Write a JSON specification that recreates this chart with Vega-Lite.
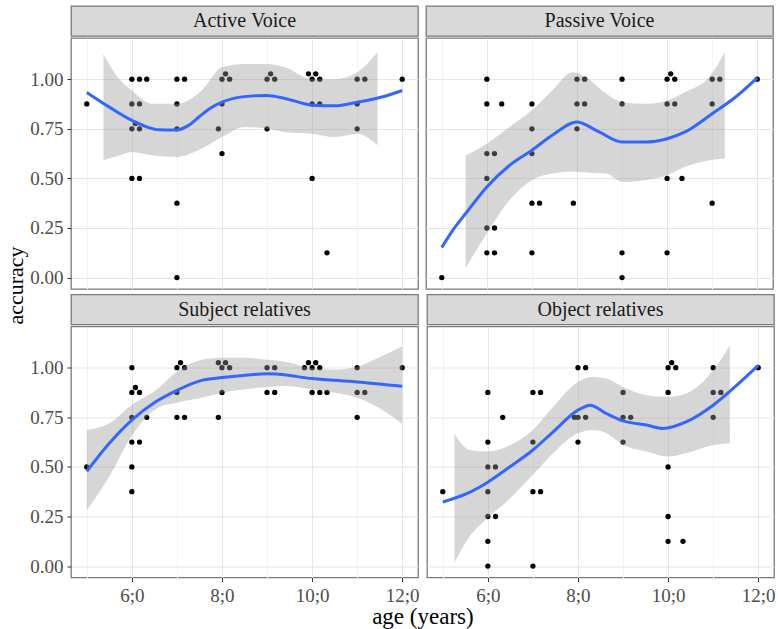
{
  "$schema": "https://vega.github.io/schema/vega-lite/v6.json",
  "background": "white",
  "padding": {"left": 0, "top": 5, "right": 5, "bottom": 0},
  "title": {"text": "age (years)", "orient": "bottom", "anchor": "middle", "font": "Liberation Serif", "fontSize": 23, "fontWeight": "normal", "color": "#000000", "offset": 0, "dx": 35},
  "config": {
    "axis": {"labelFont": "Liberation Serif", "labelFontSize": 19, "labelColor": "#4d4d4d", "tickColor": "#333333", "tickSize": 4, "labelPadding": 4, "domain": false, "gridWidth": 1, "labelOverlap": false, "labelFlush": false}
  },
  "datasets": {
    "points": [
      {"panel": "Active Voice", "age": 5.0, "acc": 0.875},
      {"panel": "Active Voice", "age": 6.0, "acc": 1},
      {"panel": "Active Voice", "age": 6.17, "acc": 1},
      {"panel": "Active Voice", "age": 6.33, "acc": 1},
      {"panel": "Active Voice", "age": 6.0, "acc": 0.875},
      {"panel": "Active Voice", "age": 6.17, "acc": 0.875},
      {"panel": "Active Voice", "age": 6.08, "acc": 0.777},
      {"panel": "Active Voice", "age": 6.0, "acc": 0.75},
      {"panel": "Active Voice", "age": 6.17, "acc": 0.75},
      {"panel": "Active Voice", "age": 6.0, "acc": 0.5},
      {"panel": "Active Voice", "age": 6.17, "acc": 0.5},
      {"panel": "Active Voice", "age": 7.0, "acc": 1},
      {"panel": "Active Voice", "age": 7.17, "acc": 1},
      {"panel": "Active Voice", "age": 7.0, "acc": 0.875},
      {"panel": "Active Voice", "age": 7.0, "acc": 0.75},
      {"panel": "Active Voice", "age": 7.0, "acc": 0.375},
      {"panel": "Active Voice", "age": 7.0, "acc": 0},
      {"panel": "Active Voice", "age": 8.0, "acc": 1},
      {"panel": "Active Voice", "age": 8.08, "acc": 1.027},
      {"panel": "Active Voice", "age": 8.17, "acc": 1},
      {"panel": "Active Voice", "age": 8.0, "acc": 0.875},
      {"panel": "Active Voice", "age": 7.92, "acc": 0.75},
      {"panel": "Active Voice", "age": 8.0, "acc": 0.625},
      {"panel": "Active Voice", "age": 9.0, "acc": 1},
      {"panel": "Active Voice", "age": 9.08, "acc": 1.027},
      {"panel": "Active Voice", "age": 9.17, "acc": 1},
      {"panel": "Active Voice", "age": 9.0, "acc": 0.75},
      {"panel": "Active Voice", "age": 9.92, "acc": 1.027},
      {"panel": "Active Voice", "age": 10.08, "acc": 1.027},
      {"panel": "Active Voice", "age": 10.0, "acc": 1},
      {"panel": "Active Voice", "age": 10.17, "acc": 1},
      {"panel": "Active Voice", "age": 10.0, "acc": 0.875},
      {"panel": "Active Voice", "age": 10.17, "acc": 0.875},
      {"panel": "Active Voice", "age": 10.0, "acc": 0.5},
      {"panel": "Active Voice", "age": 10.33, "acc": 0.125},
      {"panel": "Active Voice", "age": 11.0, "acc": 1},
      {"panel": "Active Voice", "age": 11.17, "acc": 1},
      {"panel": "Active Voice", "age": 11.0, "acc": 0.875},
      {"panel": "Active Voice", "age": 11.0, "acc": 0.75},
      {"panel": "Active Voice", "age": 12.0, "acc": 1},

      {"panel": "Passive Voice", "age": 5.0, "acc": 0},
      {"panel": "Passive Voice", "age": 6.0, "acc": 1},
      {"panel": "Passive Voice", "age": 6.0, "acc": 0.875},
      {"panel": "Passive Voice", "age": 6.33, "acc": 0.875},
      {"panel": "Passive Voice", "age": 6.0, "acc": 0.625},
      {"panel": "Passive Voice", "age": 6.17, "acc": 0.625},
      {"panel": "Passive Voice", "age": 6.0, "acc": 0.5},
      {"panel": "Passive Voice", "age": 6.0, "acc": 0.25},
      {"panel": "Passive Voice", "age": 6.17, "acc": 0.25},
      {"panel": "Passive Voice", "age": 6.0, "acc": 0.125},
      {"panel": "Passive Voice", "age": 6.17, "acc": 0.125},
      {"panel": "Passive Voice", "age": 7.0, "acc": 0.875},
      {"panel": "Passive Voice", "age": 7.0, "acc": 0.75},
      {"panel": "Passive Voice", "age": 7.0, "acc": 0.625},
      {"panel": "Passive Voice", "age": 7.0, "acc": 0.375},
      {"panel": "Passive Voice", "age": 7.17, "acc": 0.375},
      {"panel": "Passive Voice", "age": 7.0, "acc": 0.125},
      {"panel": "Passive Voice", "age": 8.0, "acc": 1},
      {"panel": "Passive Voice", "age": 8.17, "acc": 1},
      {"panel": "Passive Voice", "age": 8.0, "acc": 0.875},
      {"panel": "Passive Voice", "age": 8.17, "acc": 0.875},
      {"panel": "Passive Voice", "age": 8.0, "acc": 0.75},
      {"panel": "Passive Voice", "age": 7.92, "acc": 0.375},
      {"panel": "Passive Voice", "age": 9.0, "acc": 1},
      {"panel": "Passive Voice", "age": 9.0, "acc": 0.875},
      {"panel": "Passive Voice", "age": 9.0, "acc": 0.125},
      {"panel": "Passive Voice", "age": 9.0, "acc": 0},
      {"panel": "Passive Voice", "age": 10.0, "acc": 1},
      {"panel": "Passive Voice", "age": 10.08, "acc": 1.027},
      {"panel": "Passive Voice", "age": 10.17, "acc": 1},
      {"panel": "Passive Voice", "age": 10.0, "acc": 0.875},
      {"panel": "Passive Voice", "age": 10.17, "acc": 0.875},
      {"panel": "Passive Voice", "age": 10.0, "acc": 0.5},
      {"panel": "Passive Voice", "age": 10.33, "acc": 0.5},
      {"panel": "Passive Voice", "age": 10.0, "acc": 0.125},
      {"panel": "Passive Voice", "age": 11.0, "acc": 1},
      {"panel": "Passive Voice", "age": 11.17, "acc": 1},
      {"panel": "Passive Voice", "age": 11.0, "acc": 0.875},
      {"panel": "Passive Voice", "age": 11.0, "acc": 0.375},
      {"panel": "Passive Voice", "age": 12.0, "acc": 1},

      {"panel": "Subject relatives", "age": 5.0, "acc": 0.5},
      {"panel": "Subject relatives", "age": 6.0, "acc": 1},
      {"panel": "Subject relatives", "age": 6.0, "acc": 0.875},
      {"panel": "Subject relatives", "age": 6.08, "acc": 0.9},
      {"panel": "Subject relatives", "age": 6.17, "acc": 0.875},
      {"panel": "Subject relatives", "age": 6.0, "acc": 0.75},
      {"panel": "Subject relatives", "age": 6.33, "acc": 0.75},
      {"panel": "Subject relatives", "age": 6.0, "acc": 0.625},
      {"panel": "Subject relatives", "age": 6.17, "acc": 0.625},
      {"panel": "Subject relatives", "age": 6.0, "acc": 0.5},
      {"panel": "Subject relatives", "age": 6.0, "acc": 0.375},
      {"panel": "Subject relatives", "age": 7.0, "acc": 1},
      {"panel": "Subject relatives", "age": 7.08, "acc": 1.025},
      {"panel": "Subject relatives", "age": 7.17, "acc": 1},
      {"panel": "Subject relatives", "age": 7.0, "acc": 0.875},
      {"panel": "Subject relatives", "age": 7.0, "acc": 0.75},
      {"panel": "Subject relatives", "age": 7.17, "acc": 0.75},
      {"panel": "Subject relatives", "age": 7.92, "acc": 1.025},
      {"panel": "Subject relatives", "age": 8.08, "acc": 1.025},
      {"panel": "Subject relatives", "age": 8.0, "acc": 1},
      {"panel": "Subject relatives", "age": 8.17, "acc": 1},
      {"panel": "Subject relatives", "age": 8.0, "acc": 0.875},
      {"panel": "Subject relatives", "age": 7.92, "acc": 0.75},
      {"panel": "Subject relatives", "age": 9.0, "acc": 1},
      {"panel": "Subject relatives", "age": 9.17, "acc": 1},
      {"panel": "Subject relatives", "age": 9.0, "acc": 0.875},
      {"panel": "Subject relatives", "age": 9.17, "acc": 0.875},
      {"panel": "Subject relatives", "age": 9.92, "acc": 1.025},
      {"panel": "Subject relatives", "age": 10.08, "acc": 1.025},
      {"panel": "Subject relatives", "age": 9.83, "acc": 1},
      {"panel": "Subject relatives", "age": 10.0, "acc": 1},
      {"panel": "Subject relatives", "age": 10.17, "acc": 1},
      {"panel": "Subject relatives", "age": 10.0, "acc": 0.875},
      {"panel": "Subject relatives", "age": 10.17, "acc": 0.875},
      {"panel": "Subject relatives", "age": 10.33, "acc": 0.875},
      {"panel": "Subject relatives", "age": 11.0, "acc": 1},
      {"panel": "Subject relatives", "age": 11.0, "acc": 0.875},
      {"panel": "Subject relatives", "age": 11.17, "acc": 0.875},
      {"panel": "Subject relatives", "age": 11.0, "acc": 0.75},
      {"panel": "Subject relatives", "age": 12.0, "acc": 1},

      {"panel": "Object relatives", "age": 5.0, "acc": 0.375},
      {"panel": "Object relatives", "age": 6.0, "acc": 0.875},
      {"panel": "Object relatives", "age": 6.33, "acc": 0.75},
      {"panel": "Object relatives", "age": 6.0, "acc": 0.625},
      {"panel": "Object relatives", "age": 6.0, "acc": 0.5},
      {"panel": "Object relatives", "age": 6.17, "acc": 0.5},
      {"panel": "Object relatives", "age": 6.0, "acc": 0.375},
      {"panel": "Object relatives", "age": 6.0, "acc": 0.25},
      {"panel": "Object relatives", "age": 6.17, "acc": 0.25},
      {"panel": "Object relatives", "age": 6.0, "acc": 0.125},
      {"panel": "Object relatives", "age": 6.0, "acc": 0},
      {"panel": "Object relatives", "age": 7.0, "acc": 0.875},
      {"panel": "Object relatives", "age": 7.17, "acc": 0.875},
      {"panel": "Object relatives", "age": 7.0, "acc": 0.625},
      {"panel": "Object relatives", "age": 7.0, "acc": 0.375},
      {"panel": "Object relatives", "age": 7.17, "acc": 0.375},
      {"panel": "Object relatives", "age": 7.0, "acc": 0},
      {"panel": "Object relatives", "age": 8.0, "acc": 1},
      {"panel": "Object relatives", "age": 8.17, "acc": 1},
      {"panel": "Object relatives", "age": 7.92, "acc": 0.75},
      {"panel": "Object relatives", "age": 8.0, "acc": 0.75},
      {"panel": "Object relatives", "age": 8.17, "acc": 0.75},
      {"panel": "Object relatives", "age": 8.0, "acc": 0.625},
      {"panel": "Object relatives", "age": 9.0, "acc": 0.875},
      {"panel": "Object relatives", "age": 9.0, "acc": 0.75},
      {"panel": "Object relatives", "age": 9.17, "acc": 0.75},
      {"panel": "Object relatives", "age": 9.0, "acc": 0.625},
      {"panel": "Object relatives", "age": 10.0, "acc": 1},
      {"panel": "Object relatives", "age": 10.08, "acc": 1.025},
      {"panel": "Object relatives", "age": 10.17, "acc": 1},
      {"panel": "Object relatives", "age": 10.0, "acc": 0.875},
      {"panel": "Object relatives", "age": 10.0, "acc": 0.5},
      {"panel": "Object relatives", "age": 10.0, "acc": 0.25},
      {"panel": "Object relatives", "age": 10.0, "acc": 0.125},
      {"panel": "Object relatives", "age": 10.33, "acc": 0.125},
      {"panel": "Object relatives", "age": 11.0, "acc": 1},
      {"panel": "Object relatives", "age": 11.0, "acc": 0.875},
      {"panel": "Object relatives", "age": 11.17, "acc": 0.875},
      {"panel": "Object relatives", "age": 11.0, "acc": 0.75},
      {"panel": "Object relatives", "age": 12.0, "acc": 1}
    ],
    "fit": [
      {"panel": "Active Voice", "age": 5.0, "fit": 0.933},
      {"panel": "Active Voice", "age": 5.5, "fit": 0.859},
      {"panel": "Active Voice", "age": 6.0, "fit": 0.792},
      {"panel": "Active Voice", "age": 6.3, "fit": 0.762},
      {"panel": "Active Voice", "age": 6.6, "fit": 0.745},
      {"panel": "Active Voice", "age": 7.0, "fit": 0.744},
      {"panel": "Active Voice", "age": 7.25, "fit": 0.766},
      {"panel": "Active Voice", "age": 7.5, "fit": 0.812},
      {"panel": "Active Voice", "age": 7.75, "fit": 0.855},
      {"panel": "Active Voice", "age": 8.0, "fit": 0.884},
      {"panel": "Active Voice", "age": 8.5, "fit": 0.912},
      {"panel": "Active Voice", "age": 9.0, "fit": 0.918},
      {"panel": "Active Voice", "age": 9.4, "fit": 0.903},
      {"panel": "Active Voice", "age": 10.0, "fit": 0.869},
      {"panel": "Active Voice", "age": 10.5, "fit": 0.866},
      {"panel": "Active Voice", "age": 11.0, "fit": 0.884},
      {"panel": "Active Voice", "age": 11.55, "fit": 0.91},
      {"panel": "Active Voice", "age": 12.0, "fit": 0.943},

      {"panel": "Passive Voice", "age": 5.0, "fit": 0.152},
      {"panel": "Passive Voice", "age": 5.25, "fit": 0.24},
      {"panel": "Passive Voice", "age": 5.53, "fit": 0.323},
      {"panel": "Passive Voice", "age": 6.0, "fit": 0.457},
      {"panel": "Passive Voice", "age": 6.5, "fit": 0.565},
      {"panel": "Passive Voice", "age": 7.0, "fit": 0.642},
      {"panel": "Passive Voice", "age": 7.45, "fit": 0.717},
      {"panel": "Passive Voice", "age": 8.0, "fit": 0.784},
      {"panel": "Passive Voice", "age": 8.49, "fit": 0.734},
      {"panel": "Passive Voice", "age": 9.0, "fit": 0.683},
      {"panel": "Passive Voice", "age": 9.52, "fit": 0.683},
      {"panel": "Passive Voice", "age": 10.0, "fit": 0.7},
      {"panel": "Passive Voice", "age": 10.4, "fit": 0.734},
      {"panel": "Passive Voice", "age": 11.0, "fit": 0.826},
      {"panel": "Passive Voice", "age": 11.52, "fit": 0.91},
      {"panel": "Passive Voice", "age": 12.0, "fit": 1.007},

      {"panel": "Subject relatives", "age": 5.0, "fit": 0.477},
      {"panel": "Subject relatives", "age": 5.5, "fit": 0.619},
      {"panel": "Subject relatives", "age": 6.0, "fit": 0.736},
      {"panel": "Subject relatives", "age": 6.53, "fit": 0.828},
      {"panel": "Subject relatives", "age": 7.0, "fit": 0.886},
      {"panel": "Subject relatives", "age": 7.55, "fit": 0.936},
      {"panel": "Subject relatives", "age": 8.0, "fit": 0.95},
      {"panel": "Subject relatives", "age": 8.52, "fit": 0.962},
      {"panel": "Subject relatives", "age": 9.0, "fit": 0.97},
      {"panel": "Subject relatives", "age": 9.25, "fit": 0.967},
      {"panel": "Subject relatives", "age": 10.0, "fit": 0.945},
      {"panel": "Subject relatives", "age": 11.0, "fit": 0.928},
      {"panel": "Subject relatives", "age": 12.0, "fit": 0.906},

      {"panel": "Object relatives", "age": 5.0, "fit": 0.323},
      {"panel": "Object relatives", "age": 5.53, "fit": 0.365},
      {"panel": "Object relatives", "age": 6.0, "fit": 0.423},
      {"panel": "Object relatives", "age": 6.5, "fit": 0.502},
      {"panel": "Object relatives", "age": 7.0, "fit": 0.585},
      {"panel": "Object relatives", "age": 7.45, "fit": 0.677},
      {"panel": "Object relatives", "age": 8.0, "fit": 0.786},
      {"panel": "Object relatives", "age": 8.27, "fit": 0.811},
      {"panel": "Object relatives", "age": 8.63, "fit": 0.769},
      {"panel": "Object relatives", "age": 9.0, "fit": 0.732},
      {"panel": "Object relatives", "age": 9.52, "fit": 0.711},
      {"panel": "Object relatives", "age": 9.89, "fit": 0.694},
      {"panel": "Object relatives", "age": 10.4, "fit": 0.727},
      {"panel": "Object relatives", "age": 11.0, "fit": 0.811},
      {"panel": "Object relatives", "age": 11.52, "fit": 0.911},
      {"panel": "Object relatives", "age": 12.0, "fit": 1.012}
    ],
    "band": [
      {"panel": "Active Voice", "age": 5.37, "lo": 0.591, "hi": 1.127},
      {"panel": "Active Voice", "age": 5.65, "lo": 0.61, "hi": 1.02},
      {"panel": "Active Voice", "age": 6.0, "lo": 0.633, "hi": 0.943},
      {"panel": "Active Voice", "age": 6.45, "lo": 0.616, "hi": 0.876},
      {"panel": "Active Voice", "age": 7.0, "lo": 0.608, "hi": 0.876},
      {"panel": "Active Voice", "age": 7.55, "lo": 0.65, "hi": 0.943},
      {"panel": "Active Voice", "age": 8.0, "lo": 0.708, "hi": 1.06},
      {"panel": "Active Voice", "age": 8.5, "lo": 0.759, "hi": 1.077},
      {"panel": "Active Voice", "age": 9.0, "lo": 0.75, "hi": 1.077},
      {"panel": "Active Voice", "age": 9.4, "lo": 0.734, "hi": 1.06},
      {"panel": "Active Voice", "age": 10.0, "lo": 0.725, "hi": 1.0},
      {"panel": "Active Voice", "age": 10.5, "lo": 0.708, "hi": 1.0},
      {"panel": "Active Voice", "age": 11.0, "lo": 0.725, "hi": 1.035},
      {"panel": "Active Voice", "age": 11.45, "lo": 0.667, "hi": 1.136},

      {"panel": "Passive Voice", "age": 5.53, "lo": 0.047, "hi": 0.615},
      {"panel": "Passive Voice", "age": 6.0, "lo": 0.223, "hi": 0.675},
      {"panel": "Passive Voice", "age": 6.5, "lo": 0.39, "hi": 0.759},
      {"panel": "Passive Voice", "age": 7.0, "lo": 0.491, "hi": 0.843},
      {"panel": "Passive Voice", "age": 7.45, "lo": 0.524, "hi": 0.943},
      {"panel": "Passive Voice", "age": 7.9, "lo": 0.533, "hi": 1.035},
      {"panel": "Passive Voice", "age": 8.2, "lo": 0.53, "hi": 1.01},
      {"panel": "Passive Voice", "age": 8.65, "lo": 0.524, "hi": 0.926},
      {"panel": "Passive Voice", "age": 9.0, "lo": 0.482, "hi": 0.884},
      {"panel": "Passive Voice", "age": 9.52, "lo": 0.491, "hi": 0.876},
      {"panel": "Passive Voice", "age": 10.0, "lo": 0.516, "hi": 0.893},
      {"panel": "Passive Voice", "age": 10.4, "lo": 0.558, "hi": 0.935},
      {"panel": "Passive Voice", "age": 10.93, "lo": 0.591, "hi": 1.01},
      {"panel": "Passive Voice", "age": 11.28, "lo": 0.6, "hi": 1.136},

      {"panel": "Subject relatives", "age": 5.0, "lo": 0.281, "hi": 0.686},
      {"panel": "Subject relatives", "age": 5.5, "lo": 0.452, "hi": 0.72},
      {"panel": "Subject relatives", "age": 6.0, "lo": 0.657, "hi": 0.812},
      {"panel": "Subject relatives", "age": 6.53, "lo": 0.791, "hi": 0.886},
      {"panel": "Subject relatives", "age": 7.0, "lo": 0.824, "hi": 0.98},
      {"panel": "Subject relatives", "age": 7.55, "lo": 0.849, "hi": 1.04},
      {"panel": "Subject relatives", "age": 8.0, "lo": 0.874, "hi": 1.05},
      {"panel": "Subject relatives", "age": 8.52, "lo": 0.891, "hi": 1.05},
      {"panel": "Subject relatives", "age": 9.0, "lo": 0.903, "hi": 1.04},
      {"panel": "Subject relatives", "age": 9.4, "lo": 0.908, "hi": 1.03},
      {"panel": "Subject relatives", "age": 10.0, "lo": 0.891, "hi": 0.997},
      {"panel": "Subject relatives", "age": 10.5, "lo": 0.874, "hi": 0.99},
      {"panel": "Subject relatives", "age": 11.0, "lo": 0.849, "hi": 1.005},
      {"panel": "Subject relatives", "age": 11.47, "lo": 0.799, "hi": 1.05},
      {"panel": "Subject relatives", "age": 12.0, "lo": 0.716, "hi": 1.107},

      {"panel": "Object relatives", "age": 5.26, "lo": 0.017, "hi": 0.666},
      {"panel": "Object relatives", "age": 5.6, "lo": 0.151, "hi": 0.585},
      {"panel": "Object relatives", "age": 6.0, "lo": 0.243, "hi": 0.577},
      {"panel": "Object relatives", "age": 6.5, "lo": 0.343, "hi": 0.61},
      {"panel": "Object relatives", "age": 7.0, "lo": 0.46, "hi": 0.686},
      {"panel": "Object relatives", "age": 7.45, "lo": 0.569, "hi": 0.803},
      {"panel": "Object relatives", "age": 8.0, "lo": 0.669, "hi": 0.928},
      {"panel": "Object relatives", "age": 8.34, "lo": 0.686, "hi": 0.953},
      {"panel": "Object relatives", "age": 8.63, "lo": 0.67, "hi": 0.945},
      {"panel": "Object relatives", "age": 9.0, "lo": 0.612, "hi": 0.903},
      {"panel": "Object relatives", "age": 9.52, "lo": 0.577, "hi": 0.861},
      {"panel": "Object relatives", "age": 10.0, "lo": 0.552, "hi": 0.853},
      {"panel": "Object relatives", "age": 10.4, "lo": 0.569, "hi": 0.87},
      {"panel": "Object relatives", "age": 11.0, "lo": 0.61, "hi": 0.987},
      {"panel": "Object relatives", "age": 11.37, "lo": 0.619, "hi": 1.112}
    ]
  },
  "spacing": 0,
  "hconcat": [
    {
      "width": 29, "height": 569,
      "view": {"stroke": null},
      "data": {"values": [{"t": "accuracy"}]},
      "mark": {"type": "text", "angle": 270, "font": "Liberation Serif", "fontSize": 22, "baseline": "alphabetic", "align": "center", "dy": 8, "dx": 5, "color": "#000000"},
      "encoding": {"text": {"field": "t"}}
    },
    {
      "spacing": 3.5,
      "vconcat": [
        {
          "spacing": 6,
          "hconcat": [
            {
              "spacing": 0,
              "vconcat": [
                {"width": 347, "height": 30, "view": {"fill": "#d9d9d9", "stroke": "#7a7a7a", "strokeWidth": 1.3},
                 "data": {"values": [{"label": "Active Voice"}]},
                 "mark": {"type": "text", "font": "Liberation Serif", "fontSize": 20, "color": "#1a1a1a", "baseline": "middle"},
                 "encoding": {"text": {"field": "label"}}},
                {"width": 347, "height": 251, "view": {"stroke": "#7a7a7a", "strokeWidth": 1.3},
                 "layer": [
                   {"data": {"name": "points"}, "transform": [{"filter": "datum.panel === 'Active Voice'"}],
                    "mark": {"type": "circle", "size": 28, "color": "#000000", "opacity": 1},
                    "encoding": {
                      "x": {"field": "age", "type": "quantitative", "title": null, "scale": {"domain": [4.65, 12.35], "nice": false, "zero": false},
                            "axis": {"values": [5,6,7,8,9,10,11,12], "labels": false, "ticks": false, "gridColor": {"condition": {"test": "datum.value % 2 === 0", "value": "#e6e6e6"}, "value": "#f3f3f3"}}},
                      "y": {"field": "acc", "type": "quantitative", "title": null, "scale": {"domain": [-0.0575, 1.2075], "nice": false, "zero": false},
                            "axis": {"values": [0,0.125,0.25,0.375,0.5,0.625,0.75,0.875,1,1.125], "labelExpr": "datum.value % 0.25 === 0 && datum.value <= 1 ? format(datum.value, '.2f') : ''", "tickOpacity": {"condition": {"test": "datum.value % 0.25 === 0 && datum.value <= 1", "value": 1}, "value": 0}, "gridColor": {"condition": {"test": "datum.value % 0.25 === 0", "value": "#e6e6e6"}, "value": "#f3f3f3"}}}
                    }},
                   {"data": {"name": "band"}, "transform": [{"filter": "datum.panel === 'Active Voice'"}],
                    "mark": {"type": "area", "color": "#999999", "opacity": 0.4, "interpolate": "monotone"},
                    "encoding": {"x": {"field": "age", "type": "quantitative", "title": null}, "y": {"field": "lo", "type": "quantitative", "title": null}, "y2": {"field": "hi"}}},
                   {"data": {"name": "fit"}, "transform": [{"filter": "datum.panel === 'Active Voice'"}],
                    "mark": {"type": "line", "color": "#3366ff", "strokeWidth": 3, "interpolate": "monotone"},
                    "encoding": {"x": {"field": "age", "type": "quantitative", "title": null}, "y": {"field": "fit", "type": "quantitative", "title": null}}}
                 ]}
              ]
            },
            {
              "spacing": 0,
              "vconcat": [
                {"width": 347, "height": 30, "view": {"fill": "#d9d9d9", "stroke": "#7a7a7a", "strokeWidth": 1.3},
                 "data": {"values": [{"label": "Passive Voice"}]},
                 "mark": {"type": "text", "font": "Liberation Serif", "fontSize": 20, "color": "#1a1a1a", "baseline": "middle"},
                 "encoding": {"text": {"field": "label"}}},
                {"width": 347, "height": 251, "view": {"stroke": "#7a7a7a", "strokeWidth": 1.3},
                 "layer": [
                   {"data": {"name": "points"}, "transform": [{"filter": "datum.panel === 'Passive Voice'"}],
                    "mark": {"type": "circle", "size": 28, "color": "#000000", "opacity": 1},
                    "encoding": {
                      "x": {"field": "age", "type": "quantitative", "title": null, "scale": {"domain": [4.65, 12.35], "nice": false, "zero": false},
                            "axis": {"values": [5,6,7,8,9,10,11,12], "labels": false, "ticks": false, "gridColor": {"condition": {"test": "datum.value % 2 === 0", "value": "#e6e6e6"}, "value": "#f3f3f3"}}},
                      "y": {"field": "acc", "type": "quantitative", "title": null, "scale": {"domain": [-0.0575, 1.2075], "nice": false, "zero": false},
                            "axis": {"values": [0,0.125,0.25,0.375,0.5,0.625,0.75,0.875,1,1.125], "labels": false, "ticks": false, "gridColor": {"condition": {"test": "datum.value % 0.25 === 0", "value": "#e6e6e6"}, "value": "#f3f3f3"}}}
                    }},
                   {"data": {"name": "band"}, "transform": [{"filter": "datum.panel === 'Passive Voice'"}],
                    "mark": {"type": "area", "color": "#999999", "opacity": 0.4, "interpolate": "monotone"},
                    "encoding": {"x": {"field": "age", "type": "quantitative", "title": null}, "y": {"field": "lo", "type": "quantitative", "title": null}, "y2": {"field": "hi"}}},
                   {"data": {"name": "fit"}, "transform": [{"filter": "datum.panel === 'Passive Voice'"}],
                    "mark": {"type": "line", "color": "#3366ff", "strokeWidth": 3, "interpolate": "monotone"},
                    "encoding": {"x": {"field": "age", "type": "quantitative", "title": null}, "y": {"field": "fit", "type": "quantitative", "title": null}}}
                 ]}
              ]
            }
          ]
        },
        {
          "spacing": 6,
          "hconcat": [
            {
              "spacing": 0,
              "vconcat": [
                {"width": 347, "height": 30, "view": {"fill": "#d9d9d9", "stroke": "#7a7a7a", "strokeWidth": 1.3},
                 "data": {"values": [{"label": "Subject relatives"}]},
                 "mark": {"type": "text", "font": "Liberation Serif", "fontSize": 20, "color": "#1a1a1a", "baseline": "middle"},
                 "encoding": {"text": {"field": "label"}}},
                {"width": 347, "height": 251, "view": {"stroke": "#7a7a7a", "strokeWidth": 1.3},
                 "layer": [
                   {"data": {"name": "points"}, "transform": [{"filter": "datum.panel === 'Subject relatives'"}],
                    "mark": {"type": "circle", "size": 28, "color": "#000000", "opacity": 1},
                    "encoding": {
                      "x": {"field": "age", "type": "quantitative", "title": null, "scale": {"domain": [4.65, 12.35], "nice": false, "zero": false},
                            "axis": {"values": [5,6,7,8,9,10,11,12], "labelPadding": 5, "labelExpr": "datum.value % 2 === 0 ? datum.value + ';0' : ''", "tickOpacity": {"condition": {"test": "datum.value % 2 === 0", "value": 1}, "value": 0}, "gridColor": {"condition": {"test": "datum.value % 2 === 0", "value": "#e6e6e6"}, "value": "#f3f3f3"}}},
                      "y": {"field": "acc", "type": "quantitative", "title": null, "scale": {"domain": [-0.0575, 1.2075], "nice": false, "zero": false},
                            "axis": {"values": [0,0.125,0.25,0.375,0.5,0.625,0.75,0.875,1,1.125], "labelExpr": "datum.value % 0.25 === 0 && datum.value <= 1 ? format(datum.value, '.2f') : ''", "tickOpacity": {"condition": {"test": "datum.value % 0.25 === 0 && datum.value <= 1", "value": 1}, "value": 0}, "gridColor": {"condition": {"test": "datum.value % 0.25 === 0", "value": "#e6e6e6"}, "value": "#f3f3f3"}}}
                    }},
                   {"data": {"name": "band"}, "transform": [{"filter": "datum.panel === 'Subject relatives'"}],
                    "mark": {"type": "area", "color": "#999999", "opacity": 0.4, "interpolate": "monotone"},
                    "encoding": {"x": {"field": "age", "type": "quantitative", "title": null}, "y": {"field": "lo", "type": "quantitative", "title": null}, "y2": {"field": "hi"}}},
                   {"data": {"name": "fit"}, "transform": [{"filter": "datum.panel === 'Subject relatives'"}],
                    "mark": {"type": "line", "color": "#3366ff", "strokeWidth": 3, "interpolate": "monotone"},
                    "encoding": {"x": {"field": "age", "type": "quantitative", "title": null}, "y": {"field": "fit", "type": "quantitative", "title": null}}}
                 ]}
              ]
            },
            {
              "spacing": 0,
              "vconcat": [
                {"width": 347, "height": 30, "view": {"fill": "#d9d9d9", "stroke": "#7a7a7a", "strokeWidth": 1.3},
                 "data": {"values": [{"label": "Object relatives"}]},
                 "mark": {"type": "text", "font": "Liberation Serif", "fontSize": 20, "color": "#1a1a1a", "baseline": "middle"},
                 "encoding": {"text": {"field": "label"}}},
                {"width": 347, "height": 251, "view": {"stroke": "#7a7a7a", "strokeWidth": 1.3},
                 "layer": [
                   {"data": {"name": "points"}, "transform": [{"filter": "datum.panel === 'Object relatives'"}],
                    "mark": {"type": "circle", "size": 28, "color": "#000000", "opacity": 1},
                    "encoding": {
                      "x": {"field": "age", "type": "quantitative", "title": null, "scale": {"domain": [4.65, 12.35], "nice": false, "zero": false},
                            "axis": {"values": [5,6,7,8,9,10,11,12], "labelPadding": 5, "labelExpr": "datum.value % 2 === 0 ? datum.value + ';0' : ''", "tickOpacity": {"condition": {"test": "datum.value % 2 === 0", "value": 1}, "value": 0}, "gridColor": {"condition": {"test": "datum.value % 2 === 0", "value": "#e6e6e6"}, "value": "#f3f3f3"}}},
                      "y": {"field": "acc", "type": "quantitative", "title": null, "scale": {"domain": [-0.0575, 1.2075], "nice": false, "zero": false},
                            "axis": {"values": [0,0.125,0.25,0.375,0.5,0.625,0.75,0.875,1,1.125], "labels": false, "ticks": false, "gridColor": {"condition": {"test": "datum.value % 0.25 === 0", "value": "#e6e6e6"}, "value": "#f3f3f3"}}}
                    }},
                   {"data": {"name": "band"}, "transform": [{"filter": "datum.panel === 'Object relatives'"}],
                    "mark": {"type": "area", "color": "#999999", "opacity": 0.4, "interpolate": "monotone"},
                    "encoding": {"x": {"field": "age", "type": "quantitative", "title": null}, "y": {"field": "lo", "type": "quantitative", "title": null}, "y2": {"field": "hi"}}},
                   {"data": {"name": "fit"}, "transform": [{"filter": "datum.panel === 'Object relatives'"}],
                    "mark": {"type": "line", "color": "#3366ff", "strokeWidth": 3, "interpolate": "monotone"},
                    "encoding": {"x": {"field": "age", "type": "quantitative", "title": null}, "y": {"field": "fit", "type": "quantitative", "title": null}}}
                 ]}
              ]
            }
          ]
        }
      ]
    }
  ]
}
